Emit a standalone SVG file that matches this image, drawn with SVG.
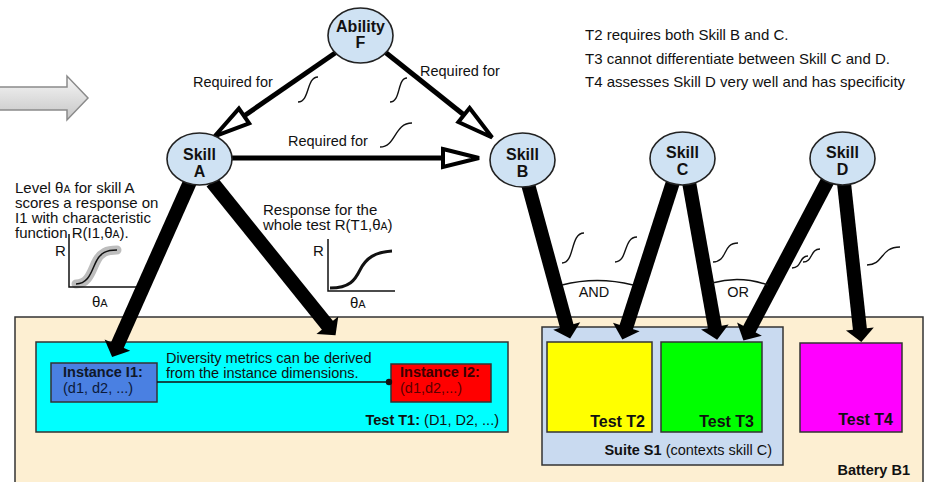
<svg xmlns="http://www.w3.org/2000/svg" width="926" height="482" viewBox="0 0 926 482">
<style>
text{font-family:"Liberation Sans",Arial,sans-serif;fill:#111}
.t{font-size:14.5px}
.p{font-size:15px}
.b{font-weight:bold}
.nodeE{fill:#cfe2f3;stroke:#222;stroke-width:1.6}
.nl{font-size:16px;font-weight:bold;text-anchor:middle}
.thin{stroke:#000;stroke-width:5;fill:none;marker-end:url(#open)}
.thick{stroke:#000;stroke-width:14;fill:none;marker-end:url(#solid)}
.sq{stroke:#111;stroke-width:1.4;fill:none}
.box{stroke:#333;stroke-width:1.5}
.ax{stroke:#111;stroke-width:1.5;fill:none}
.lbl{font-size:16px;font-weight:bold;text-anchor:end}
</style>
<defs>
<linearGradient id="gg" x1="0" y1="0" x2="0" y2="1">
<stop offset="0" stop-color="#f6f6f6"/>
<stop offset="1" stop-color="#c6c6c6"/>
</linearGradient>
<marker id="open" markerUnits="userSpaceOnUse" markerWidth="50" markerHeight="30" viewBox="-4 -15 50 30" refX="0" refY="0" orient="auto" overflow="visible">
<path d="M0,-9 L36,0 L0,9 Z" fill="#fff" stroke="#000" stroke-width="4"/>
</marker>
<marker id="solid" markerUnits="userSpaceOnUse" markerWidth="20" markerHeight="34" viewBox="0 -17 20 34" refX="1" refY="0" orient="auto" overflow="visible">
<path d="M0,-14 L13,0 L0,14 Z" fill="#000"/>
</marker>
</defs>

<!-- big gray arrow -->
<path d="M-2,87 L67,87 L67,76 L88,98 L67,120 L67,110 L-2,110 Z" fill="url(#gg)" stroke="#8a8a8a" stroke-width="1.5"/>

<!-- notes -->
<g id="notes" class="p">
<text x="585" y="40">T2 requires both Skill B and C.</text>
<text x="585" y="63.5">T3 cannot differentiate between Skill C and D.</text>
<text x="585" y="87">T4 assesses Skill D very well and has specificity</text>
</g>

<g id="levelText" class="p">
<text x="15" y="193">Level θ<tspan font-size="10.5px">A</tspan> for skill A</text>
<text x="15" y="208">scores a response on</text>
<text x="15" y="223">I1 with characteristic</text>
<text x="15" y="238">function R(I1,θ<tspan font-size="10.5px">A</tspan>).</text>
</g>
<g id="responseText" class="p">
<text x="263" y="215">Response for the</text>
<text x="263" y="230">whole test R(T1,θ<tspan font-size="10.5px">A</tspan>)</text>
</g>

<!-- graph 1 -->
<g id="graph1">
<path d="M76,284 C90,284 92,268 97,260 C101,253 106,250 117,250" stroke="#bdbdbd" stroke-width="9" fill="none" stroke-linecap="round"/>
<path d="M76,284 C90,284 92,268 97,260 C101,253 106,250 117,250" stroke="#111" stroke-width="1.5" fill="none"/>
<path class="ax" d="M69,234 L69,287 L138,287"/>
<text class="p" x="55" y="256">R</text>
<text class="p" x="92" y="307">θ<tspan font-size="11px">A</tspan></text>
</g>
<!-- graph 2 -->
<g id="graph2">
<path d="M330,288 C350,288 355,280 360,270 C366,258 375,252 392,251" stroke="#111" stroke-width="3" fill="none"/>
<path class="ax" d="M328,239 L328,291 L395,291"/>
<text class="p" x="313" y="256">R</text>
<text class="p" x="350" y="308">θ<tspan font-size="11px">A</tspan></text>
</g>

<!-- containers -->
<g id="batteryB1">
<rect class="box" x="15" y="317" width="908" height="180" fill="#fdefd2"/>
<text class="b" x="910" y="475" text-anchor="end" style="font-size:14.5px">Battery B1</text>
</g>
<g id="testT1">
<rect class="box" x="36" y="342" width="472" height="90" fill="#00ffff"/>
<text class="t" x="499" y="425" text-anchor="end"><tspan font-weight="bold">Test T1:</tspan> (D1, D2, ...)</text>
</g>
<g id="instanceI1">
<rect class="box" x="51" y="363" width="106" height="39" fill="#4a80e2"/>
<text class="t b" x="63" y="377" style="fill:#101828">Instance I1:</text>
<text class="t" x="63" y="393" style="fill:#0c1a3a">(d1, d2, ...)</text>
</g>
<g id="instanceI2">
<rect class="box" x="391" y="364" width="100" height="38" fill="#ff0000"/>
<text class="t b" x="400" y="377" style="fill:#3a0000">Instance I2:</text>
<text class="t" x="400" y="393" style="fill:#5a0000">(d1,d2,...)</text>
</g>
<g id="diversity">
<text class="t" x="166" y="363">Diversity metrics can be derived</text>
<text class="t" x="166" y="378">from the instance dimensions.</text>
</g>
<g id="suiteS1">
<rect class="box" x="542" y="327" width="241" height="138" fill="#c9daf0"/>
<text class="t" x="772" y="455" text-anchor="end"><tspan font-weight="bold">Suite S1</tspan> (contexts skill C)</text>
</g>
<g id="testT2">
<rect class="box" x="547" y="342" width="105" height="90" fill="#ffff00"/>
<text class="lbl" x="645" y="427">Test T2</text>
</g>
<g id="testT3">
<rect class="box" x="661" y="342" width="101" height="90" fill="#00ff00"/>
<text class="lbl" x="754" y="427">Test T3</text>
</g>
<g id="testT4">
<rect class="box" x="800" y="343" width="102" height="89" fill="#ff00ff"/>
<text class="lbl" x="893" y="425">Test T4</text>
</g>

<!-- connectors -->
<g id="connectors">
<line class="thin" x1="338" y1="51" x2="244" y2="116"/>
<line class="thin" x1="385" y1="52" x2="464" y2="115"/>
<line class="thin" x1="230" y1="158" x2="443" y2="158"/>
<line class="thick" x1="190" y1="182" x2="117" y2="346"/>
<line class="thick" x1="212" y1="182" x2="328" y2="326"/>
<line class="thick" x1="528" y1="184" x2="567" y2="327"/>
<line class="thick" x1="673" y1="182" x2="626" y2="328"/>
<line class="thick" x1="689" y1="182" x2="715" y2="328"/>
<line class="thick" x1="828" y1="180" x2="749" y2="330"/>
<line class="thick" x1="844" y1="183" x2="860" y2="330"/>
<line x1="157" y1="382" x2="389" y2="382" stroke="#111" stroke-width="1.3"/>
<circle cx="389" cy="382" r="3.2" fill="#111"/>
<path class="sq" d="M562,285 Q597,276 633,285"/>
<path class="sq" d="M712,283 Q740,275 768,285"/>
<text class="t" x="594" y="297" text-anchor="middle">AND</text>
<text class="t" x="738" y="297" text-anchor="middle">OR</text>
<text class="t" x="193" y="87">Required for</text>
<text class="t" x="420" y="76">Required for</text>
<text class="t" x="288" y="146">Required for</text>
<path class="sq" d="M298,102 C310,102 306,77 318,77"/>
<path class="sq" d="M390,102 C401,102 397,78 407,78"/>
<path class="sq" d="M380,147 C396,147 394,123 412,123"/>
<path class="sq" d="M562,263 C575,263 570,233 584,233"/>
<path class="sq" d="M615,262 C628,262 623,237 637,237"/>
<path class="sq" d="M713,262 C728,262 722,243 738,243"/>
<path class="sq" d="M792,268 C802,268 799,256 808,256"/>
<path class="sq" d="M803,262 C813,262 810,249 820,249"/>
<path class="sq" d="M867,265 C884,265 880,247 900,247"/>
</g>

<!-- nodes -->
<g id="abilityF">
<ellipse class="nodeE" cx="360.5" cy="35.5" rx="32.5" ry="27.5"/>
<text class="nl" x="360.5" y="32">Ability</text>
<text class="nl" x="360.5" y="48">F</text>
</g>
<g id="skillA">
<ellipse class="nodeE" cx="199.5" cy="159" rx="32.5" ry="26"/>
<text class="nl" x="199.5" y="160">Skill</text>
<text class="nl" x="199.5" y="177">A</text>
</g>
<g id="skillB">
<ellipse class="nodeE" cx="522.5" cy="160" rx="32.5" ry="27"/>
<text class="nl" x="522.5" y="160">Skill</text>
<text class="nl" x="522.5" y="177">B</text>
</g>
<g id="skillC">
<ellipse class="nodeE" cx="682.5" cy="158.5" rx="32.5" ry="26.5"/>
<text class="nl" x="682.5" y="158">Skill</text>
<text class="nl" x="682.5" y="175">C</text>
</g>
<g id="skillD">
<ellipse class="nodeE" cx="842.5" cy="158.5" rx="32.5" ry="26.5"/>
<text class="nl" x="842.5" y="158">Skill</text>
<text class="nl" x="842.5" y="175">D</text>
</g>
</svg>
